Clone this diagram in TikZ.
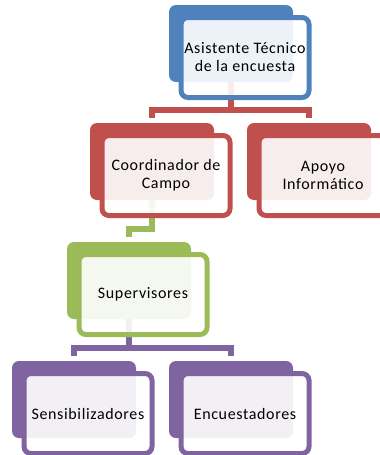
\documentclass[tikz,border=0pt]{standalone}
\usepackage{fontspec}
\setmainfont{Carlito}[LetterSpace=4]
\usetikzlibrary{positioning,calc}
\pgfdeclarelayer{background}
\pgfsetlayers{background,main}
\definecolor{orgblue}{HTML}{4F81BD}
\definecolor{orgred}{HTML}{C0504D}
\definecolor{orggreen}{HTML}{9BBB59}
\definecolor{orgpurple}{HTML}{8064A2}

\begin{document}
\begin{tikzpicture}[
    x=1pt, y=-1pt,
    node distance=33pt,
    orgback/.style={rectangle, rounded corners=7pt, fill=#1, minimum width=124pt, minimum height=77pt, inner sep=0pt, outer sep=0pt},
    orgfront/.style={rectangle, rounded corners=7pt, draw=#1, line width=5pt, fill=white, fill opacity=0.9, text opacity=1, minimum width=128pt, minimum height=80pt, inner sep=0pt, outer sep=0pt, align=center, anchor=north west, font=\fontsize{16}{18}\selectfont},
    link/.style={draw=#1, line width=6pt}
]
\useasboundingbox (0,0) rectangle (380,455);

% top
\node[orgback=orgblue, anchor=north west] (asb) at (169,5) {};
\node[orgfront=orgblue] (as) at ([shift={(12,12.5)}]asb.north west) {Asistente Técnico\\de la encuesta};

% second level
\node[orgback=orgred, anchor=north west] (cob) at (90,123) {};
\node[orgfront=orgred] (co) at ([shift={(12,12.5)}]cob.north west) {Coordinador de\\Campo};
\node[orgback=orgred, right=of cob] (apb) {};
\node[orgfront=orgred] (ap) at ([shift={(12,12.5)}]apb.north west) {Apoyo\\Informático};

% supervisores
\node[orgback=orggreen, anchor=north west] (sub) at (67,242) {};
\node[orgfront=orggreen] (su) at ([shift={(12,12.5)}]sub.north west) {Supervisores};

% bottom level
\node[orgback=orgpurple, anchor=north west] (seb) at (12,361) {};
\node[orgfront=orgpurple] (se) at ([shift={(12,12.5)}]seb.north west) {Sensibilizadores};
\node[orgback=orgpurple, right=of seb] (enb) {};
\node[orgfront=orgpurple] (en) at ([shift={(12,12.5)}]enb.north west) {Encuestadores};

\begin{pgfonlayer}{background}
\coordinate (asfork) at ($(as.south)!0.5!(cob.north)$);
\draw[link=orgred] (asb.south) -- (asb.south |- asfork);
\draw[link=orgred, shorten <=5pt, shorten >=5pt] (cob.north) |- (asfork) -| (apb.north);

\coordinate (cofork) at ($(co.south)!0.5!(sub.north)$);
\draw[link=orggreen, shorten >=5pt] (cob.south) |- (cofork) -| (sub.north);

\coordinate (sufork) at ($(su.south)!0.5!(seb.north)$);
\draw[link=orgpurple] (sub.south) -- (sub.south |- sufork);
\draw[link=orgpurple, shorten <=5pt, shorten >=5pt] (seb.north) |- (sufork) -| (enb.north);
\end{pgfonlayer}

\end{tikzpicture}
\end{document}
